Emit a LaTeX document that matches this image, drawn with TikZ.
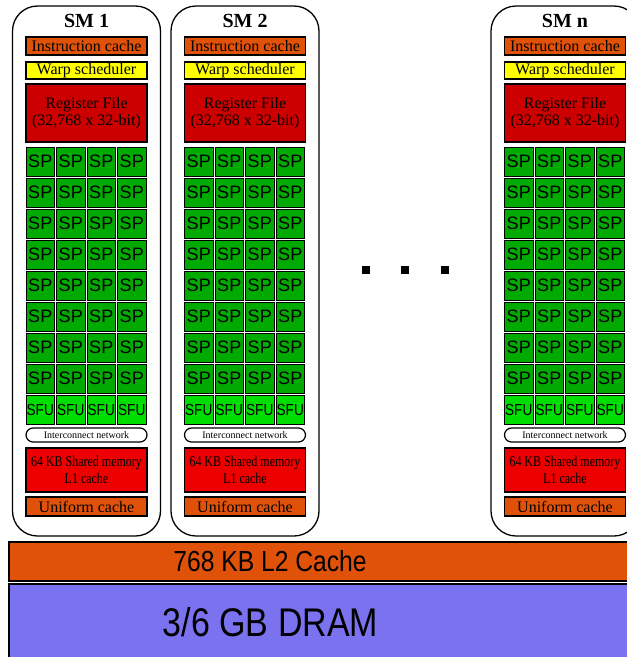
\documentclass[tikz,border=0pt]{standalone}
\usepackage{fontspec}
\setmainfont{Liberation Serif}
\newfontfamily\sfa{Liberation Sans}
\newfontfamily\sfc[FakeStretch=0.85]{Liberation Sans}
\newfontfamily\rmc[FakeStretch=0.8]{Liberation Serif}
\definecolor{icorange}{HTML}{E0520A}
\definecolor{warpyellow}{HTML}{FFFF00}
\definecolor{regred}{HTML}{CC0000}
\definecolor{shmred}{HTML}{EE0000}
\definecolor{spgreen}{HTML}{00AA00}
\definecolor{sfugreen}{HTML}{00DD00}
\definecolor{dramblue}{HTML}{7B72F0}
\tikzset{
  blk/.style={draw=black, line width=1.2pt, anchor=north west, inner sep=0pt, outer sep=0pt, align=center, minimum width=121pt},
  smbox/.style={draw=black, line width=1.3pt, rounded corners=25pt, anchor=north west, inner sep=0pt, outer sep=0pt, minimum width=148pt, minimum height=530pt},
  smtitle/.style={font=\bfseries\fontsize{20}{22}\selectfont, inner sep=0pt},
  cellbox/.style={draw=black, line width=1pt, anchor=north west, inner sep=0pt, outer sep=0pt, minimum width=28.5pt, minimum height=29pt},
  spcell/.style={cellbox, fill=spgreen, font=\sfa\fontsize{18}{18}\selectfont},
  sfucell/.style={cellbox, fill=sfugreen, font=\sfc\fontsize{16}{16}\selectfont},
  dotsq/.style={fill=black, inner sep=0pt, minimum size=8pt},
  bigbar/.style={draw=black, line width=1.2pt, anchor=north west, inner sep=0pt, outer sep=0pt, minimum width=640pt},
}
\newcommand\smunit[3]{%
  \node[smbox] (#1) at (#2,6) {};
  \node[smtitle] (#1-title) at ({#2+74},21) {#3};
  \node[blk, fill=icorange, minimum height=18pt, font=\fontsize{16}{17}\selectfont] (#1-ic) at ({#2+13.5},37) {Instruction cache};
  \node[blk, fill=warpyellow, minimum height=17pt, font=\fontsize{16}{17}\selectfont] (#1-ws) at ({#2+13.5},62) {Warp scheduler};
  \node[blk, fill=regred, minimum height=58pt, font=\fontsize{16}{17}\selectfont] (#1-rf) at ({#2+13.5},84) {Register File\\(32,768 x 32-bit)};
  \foreach \r in {0,...,7}{
    \foreach \c in {0,...,3}{
      \node[spcell] (#1-sp-\r-\c) at ({#2+13.5+30.5*\c},{147+31*\r}) {SP};
    }
  }
  \foreach \c in {0,...,3}{
    \node[sfucell] (#1-sfu-\c) at ({#2+13.5+30.5*\c},395) {SFU};
  }
  \node[blk, fill=white, rounded corners=7pt, minimum height=14pt, font=\fontsize{10}{11}\selectfont] (#1-net) at ({#2+13.5},428) {Interconnect network};
  \node[blk, fill=shmred, minimum height=44pt, font=\rmc\fontsize{15}{17}\selectfont] (#1-shm) at ({#2+13.5},448) {64 KB Shared memory\\L1 cache};
  \node[blk, fill=icorange, minimum height=19pt, font=\fontsize{16}{17}\selectfont] (#1-uc) at ({#2+13.5},497) {Uniform cache};
}
\begin{document}
\begin{tikzpicture}[x=1pt, y=-1pt]
  \useasboundingbox (0,0) rectangle (627,657);
  \smunit{sma}{12.5}{SM 1}
  \smunit{smb}{171}{SM 2}
  \smunit{smn}{491}{SM n}
  \node[dotsq] (dot1) at (366,270) {};
  \node[dotsq] (dot2) at (405,270) {};
  \node[dotsq] (dot3) at (445,270) {};
  \node[bigbar, fill=icorange, minimum height=39pt] (l2) at (9,542) {};
  \node[font=\sfc\fontsize{29}{30}\selectfont, inner sep=0pt] (l2-label) at (270,561) {768 KB L2 Cache};
  \node[bigbar, fill=dramblue, minimum height=100pt] (dram) at (9,584) {};
  \node[font=\sfc\fontsize{40}{40}\selectfont, inner sep=0pt] (dram-label) at (270.5,622) {3/6 GB DRAM};
\end{tikzpicture}
\end{document}
